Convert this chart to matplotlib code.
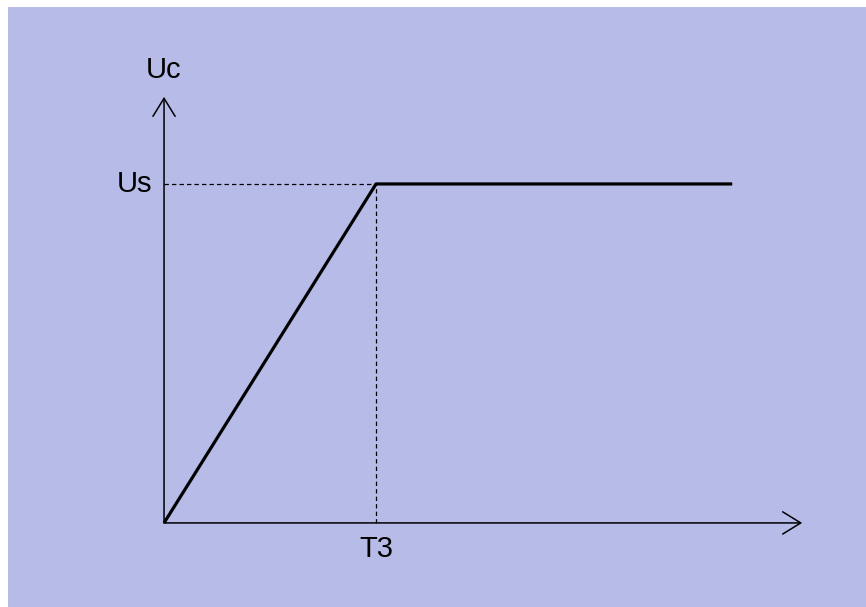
import matplotlib.pyplot as plt

# charging curve of the capacitor voltage (arbitrary units, T3 = 1, Us = 1)
t_vals = [0.0, 1.0, 2.68]
uc_vals = [0.0, 1.0, 1.0]
t3 = 1.0
us = 1.0
x_axis_end = 3.01
y_axis_end = 1.257

axis_labels = {"x": "T3", "y": "Us", "top": "Uc"}

plt.rcParams['font.family'] = ['Liberation Sans', 'DejaVu Sans']

fig = plt.figure(figsize=(8.66, 6.07), dpi=100)
fig.patch.set_facecolor('white')
ax = fig.add_axes([8 / 866, 0, 858 / 866, 600 / 607])
ax.set_facecolor('#B7BBE8')
ax.set_xlim(-0.736, 3.311)
ax.set_ylim(-0.248, 1.522)
for s in ax.spines.values():
    s.set_visible(False)
ax.set_xticks([])
ax.set_yticks([])

# axes with open arrow heads
arrow = dict(arrowstyle='->,head_length=0.65,head_width=0.4', color='black',
             lw=1.1, mutation_scale=20, shrinkA=0, shrinkB=0)
ax.annotate('', xy=(x_axis_end, 0), xytext=(0, 0), arrowprops=arrow)
ax.annotate('', xy=(0, y_axis_end), xytext=(0, 0), arrowprops=arrow)

# dashed guide lines
ax.plot([0, t3], [us, us], color='black', lw=0.9, ls=(0, (3.5, 2.5)))
ax.plot([t3, t3], [0, us], color='black', lw=0.9, ls=(0, (3.5, 2.5)))

# the curve
ax.plot(t_vals, uc_vals, color='black', lw=2.3, solid_capstyle='butt')

ax.text(0, 1.335, axis_labels["top"], ha='center', va='center', fontsize=21)
ax.text(-0.137, us, axis_labels["y"], ha='center', va='center', fontsize=21)
ax.text(t3, -0.077, axis_labels["x"], ha='center', va='center', fontsize=21)

plt.savefig('out.png', dpi=100)
